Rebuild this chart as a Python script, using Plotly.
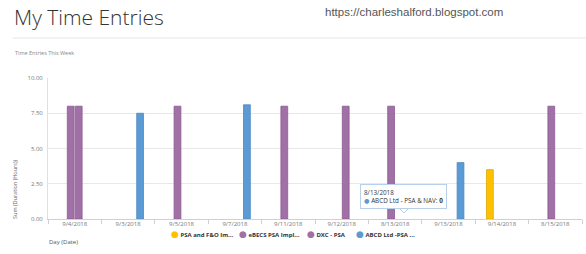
import plotly.graph_objects as go

days = ["9/4/2018", "9/3/2018", "9/5/2018", "9/7/2018", "9/11/2018",
        "9/12/2018", "8/13/2018", "9/13/2018", "9/14/2018", "8/15/2018"]

series_names = ["PSA and F&O Im...", "eBECS PSA Impl...", "DXC - PSA", "ABCD Ltd -PSA ..."]
series_colors = ["#FFC000", "#A070A6", "#A070A6", "#5B9BD5"]
series_lines = ["#E0A800", "#8C5C93", "#8C5C93", "#4A88C2"]

psa_fo = [None, None, None, None, None, None, None, None, 3.5, None]
ebecs = [8, None, 8, None, 8, None, 8, None, None, 8]
dxc = [8, None, None, None, None, 8, None, None, None, None]
abcd = [None, 7.5, None, 8.1, None, None, None, 4, None, None]
series_values = [psa_fo, ebecs, dxc, abcd]

y_ticks = [0, 2.5, 5, 7.5, 10]
y_ticktext = ["0.00", "2.50", "5.00", "7.50", "10.00"]

W, H = 586, 254
ML, MR, MT, MB = 48, 4, 78, 35
PW, PH = W - ML - MR, H - MT - MB


def px(x):
    return (x - ML) / PW


def py(y):
    return (H - MB - y) / PH


fig = go.Figure()
for name, vals, col, lc in zip(series_names, series_values, series_colors, series_lines):
    fig.add_trace(go.Bar(x=days, y=vals, name=name, marker=dict(color=col, line=dict(color=lc, width=0.8)),
                         showlegend=False))

fig.update_layout(
    width=W, height=H,
    margin=dict(l=ML, r=MR, t=MT, b=MB),
    paper_bgcolor="white", plot_bgcolor="white",
    barmode="group", bargap=0.4, bargroupgap=0.15,
    font=dict(family="Open Sans, DejaVu Sans, sans-serif", color="#666"),
    showlegend=False,
    xaxis=dict(type="category", categoryorder="array", categoryarray=days,
               showgrid=False, showline=True, linecolor="#d0d0d0", linewidth=1,
               ticks="outside", tickson="boundaries", ticklen=4, tickcolor="#d0d0d0",
               tickfont=dict(size=6, color="#777"), ticklabelstandoff=-1,
               fixedrange=True),
    yaxis=dict(range=[0, 10], tickvals=y_ticks, ticktext=y_ticktext,
               showgrid=True, gridcolor="#e8e8e8", gridwidth=1,
               showline=True, linecolor="#e0e0e0", zeroline=False,
               tickfont=dict(size=6, color="#777"), ticks="", ticklabelstandoff=3),
)

annotations = [
    dict(text="My Time Entries", x=px(12), y=py(17), xanchor="left", yanchor="middle",
         font=dict(size=21, color="#333", family="Open Sans, sans-serif", weight=300)),
    dict(text="https://charleshalford.blogspot.com", x=px(323), y=py(12), xanchor="left", yanchor="middle",
         font=dict(size=11.5, color="#555", family="Liberation Sans, Arial, sans-serif")),
    dict(text="Time Entries This Week", x=px(13), y=py(53), xanchor="left", yanchor="middle",
         font=dict(size=5.5, color="#888")),
    dict(text="Sum (Duration (Hours))", x=px(15), y=py(189), xanchor="center", yanchor="middle",
         textangle=-90, font=dict(size=5.5, color="#666")),
    dict(text="Day (Date)", x=px(47), y=py(242), xanchor="left", yanchor="middle",
         font=dict(size=6, color="#555")),
    dict(text="8/13/2018<br><span style='color:#5B9BD5'>●</span> ABCD Ltd ‑ PSA &amp; NAV: <b>0</b>",
         x=px(360), y=py(196), xanchor="left", yanchor="middle", align="left",
         font=dict(size=6.3, color="#333"), bgcolor="white", bordercolor="#B8D0EA",
         borderwidth=1, borderpad=3),
]

legend_x = [169, 237, 305, 354]
for name, col, lx in zip(series_names, series_colors, legend_x):
    annotations.append(dict(
        text=f"<span style='color:{col};font-size:9px'>●</span> <b>{name}</b>",
        x=px(lx), y=py(233), xanchor="left", yanchor="middle",
        font=dict(size=6, color="#333")))

for a in annotations:
    a.update(xref="paper", yref="paper", showarrow=False)
fig.update_layout(annotations=annotations)

fig.add_shape(type="line", xref="paper", yref="paper", x0=px(13), x1=px(586), y0=py(38), y1=py(38),
              line=dict(color="#e6e6e6", width=1))

# tooltip pointer
fig.add_shape(type="path", xref="paper", yref="paper",
              path=f"M {px(399)} {py(208)} L {px(404)} {py(213)} L {px(409)} {py(208)} Z",
              fillcolor="white", line=dict(color="#B8D0EA", width=1), layer="above")
fig.add_shape(type="line", xref="paper", yref="paper", x0=px(400), x1=px(408), y0=py(207.6), y1=py(207.6),
              line=dict(color="white", width=1.5), layer="above")

fig.write_html("out.html")
